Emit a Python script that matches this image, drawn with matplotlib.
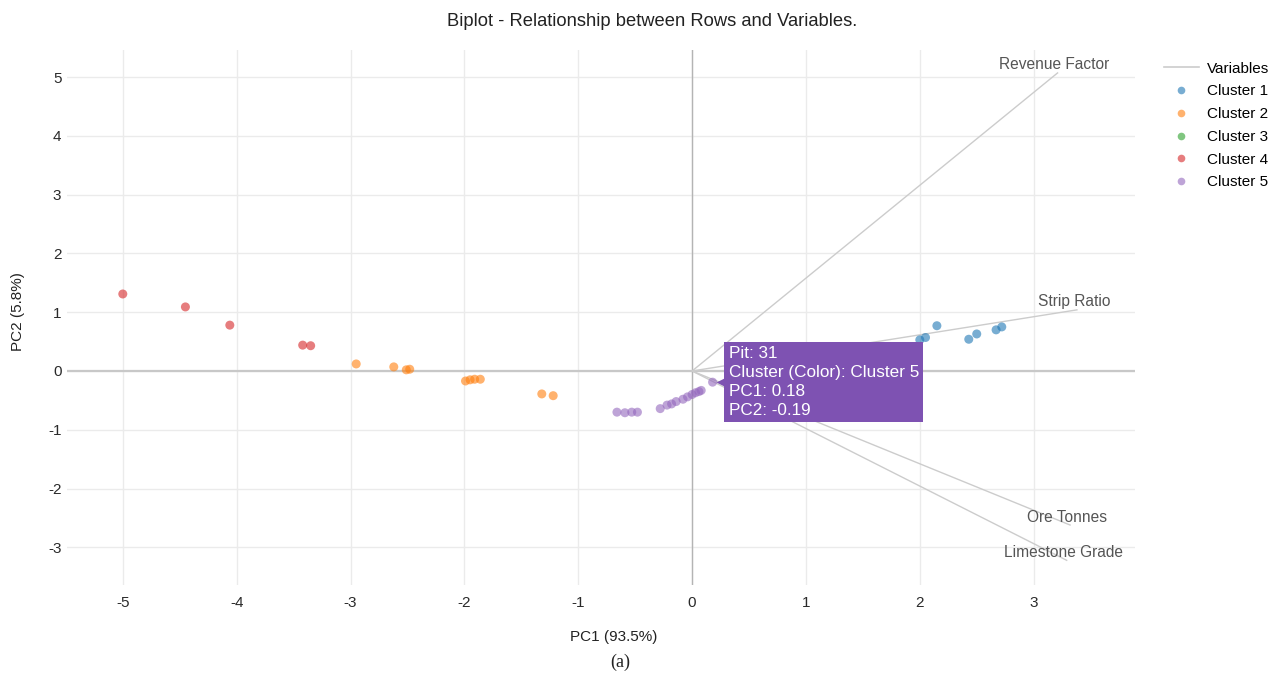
import matplotlib
matplotlib.use('Agg')
import numpy as np
import matplotlib.pyplot as plt
from matplotlib.lines import Line2D
from matplotlib.transforms import offset_copy

plt.rcParams['font.family'] = ['Liberation Sans', 'DejaVu Sans']
plt.rcParams['axes.unicode_minus'] = False

# PCA row scores per cluster
c1_pc1 = [2.00, 2.05, 2.15, 2.43, 2.50, 2.67, 2.72]
c1_pc2 = [0.53, 0.57, 0.77, 0.54, 0.63, 0.70, 0.75]
c2_pc1 = [-2.95, -2.62, -2.51, -2.48, -1.99, -1.95, -1.91, -1.86, -1.32, -1.22]
c2_pc2 = [0.12, 0.07, 0.02, 0.03, -0.17, -0.15, -0.14, -0.14, -0.39, -0.42]
c3_pc1 = []
c3_pc2 = []
c4_pc1 = [-5.00, -4.45, -4.06, -3.42, -3.35]
c4_pc2 = [1.31, 1.09, 0.78, 0.44, 0.43]
c5_pc1 = [-0.66, -0.59, -0.53, -0.48, -0.28, -0.22, -0.18, -0.14, -0.08,
          -0.04, 0.00, 0.03, 0.06, 0.08, 0.18]
c5_pc2 = [-0.70, -0.71, -0.70, -0.70, -0.64, -0.58, -0.56, -0.52, -0.48,
          -0.44, -0.40, -0.37, -0.35, -0.33, -0.19]

clusters = ['Cluster 1', 'Cluster 2', 'Cluster 3', 'Cluster 4', 'Cluster 5']
colors = ['#1f77b4', '#ff7f0e', '#2ca02c', '#d62728', '#9467bd']

# variable loadings (arrow ends)
var_names = ['Revenue Factor', 'Strip Ratio', 'Ore Tonnes', 'Limestone Grade']
var_pc1 = [3.21, 3.38, 3.32, 3.29]
var_pc2 = [5.07, 1.04, -2.62, -3.22]

# hovered point
hover_pit = 31
hover_cluster = 'Cluster 5'
hover_pc1 = 0.18
hover_pc2 = -0.19

fig = plt.figure(figsize=(12.82, 6.82), dpi=100)
ax = fig.add_axes([67/1282, 1-585/682, (1135-67)/1282, (585-50)/682])

ax.set_xlim(-5.49, 3.89)
ax.set_ylim(-3.64, 5.46)
ax.set_xticks(np.arange(-5, 4))
ax.set_yticks(np.arange(-3, 6))
ax.grid(True, color='#ebebeb', lw=1)
ax.set_axisbelow(True)
for s in ax.spines.values():
    s.set_visible(False)
ax.tick_params(length=0, labelsize=11, labelcolor='#2a2a2a')
ax.tick_params(axis='x', pad=8)
ax.tick_params(axis='y', pad=4)

ax.axhline(0, color='#c8c8c8', lw=1.6, zorder=1)
ax.axvline(0, color='#b4b4b4', lw=1.0, zorder=1)

for x, y, name in zip(var_pc1, var_pc2, var_names):
    ax.plot([0, x], [0, y], color='#cccccc', lw=1.0, zorder=2)
    ax.annotate(name, (x, y), xytext=(-3, 8), textcoords='offset pixels',
                ha='center', va='center', fontsize=11.2, color='#555555')

xs = [c1_pc1, c2_pc1, c3_pc1, c4_pc1, c5_pc1]
ys = [c1_pc2, c2_pc2, c3_pc2, c4_pc2, c5_pc2]
for x, y, c in zip(xs, ys, colors):
    ax.scatter(x, y, s=42, color=c, alpha=0.6, edgecolors='none', zorder=3)

# tooltip
tip = 'Pit: %d\nCluster (Color): %s\nPC1: %.2f\nPC2: %.2f' % (
    hover_pit, hover_cluster, hover_pc1, hover_pc2)
ax.annotate(tip, (hover_pc1, hover_pc2), xytext=(16, 0), textcoords='offset pixels',
            ha='left', va='center', fontsize=12.3, color='white', linespacing=1.33,
            bbox=dict(boxstyle='square,pad=0.25', fc='#7e52b2', ec='none'), zorder=6)
ax.plot([hover_pc1], [hover_pc2], marker='<', ms=9, color='#7e52b2', mec='none',
        transform=offset_copy(ax.transData, fig, x=9, y=0, units='dots'), zorder=6)

handles = [Line2D([], [], color='#cccccc', lw=1.2)]
for c in colors:
    handles.append(Line2D([], [], ls='none', marker='o', ms=5.5, color=c,
                          alpha=0.6, mec='none'))
fig.legend(handles, ['Variables'] + clusters, loc='upper left',
           bbox_to_anchor=(1150/1282, 1-48/682), frameon=False, fontsize=11,
           handlelength=2.3, labelspacing=0.57, handletextpad=0.55)

fig.text(652/1282, 1-22/682, 'Biplot - Relationship between Rows and Variables.',
         ha='center', va='center', fontsize=13.2, color='#222222')
fig.text(614/1282, 1-637/682, 'PC1 (93.5%)', ha='center', va='center',
         fontsize=11, color='#222222')
fig.text(18/1282, 1-312/682, 'PC2 (5.8%)', ha='center', va='center',
         rotation=90, fontsize=11, color='#222222')
fig.text(620/1282, 1-662/682, '(a)', ha='center', va='center',
         fontsize=13, family='Liberation Serif', color='#222222')

fig.savefig('out.png', dpi=100)
